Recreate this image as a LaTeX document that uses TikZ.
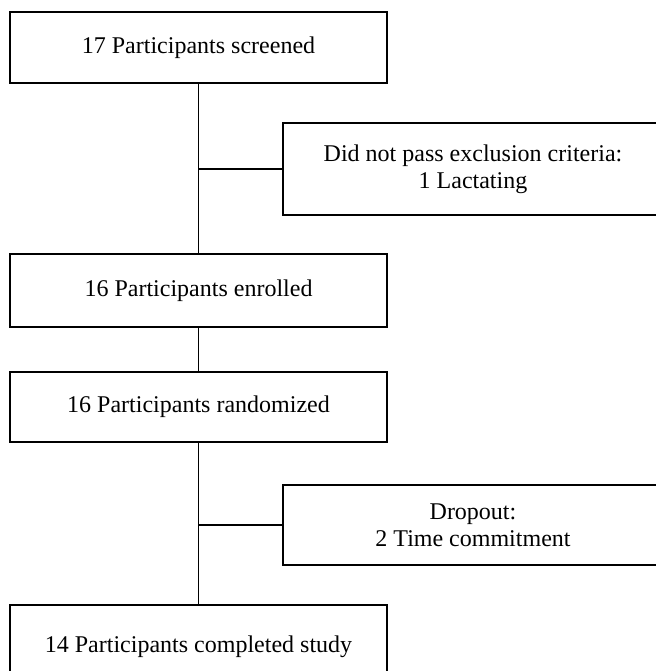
\documentclass[tikz,border=0pt]{standalone}
\usepackage{fontspec}
\setmainfont{Liberation Serif}
\usetikzlibrary{positioning}

\begin{document}
\begin{tikzpicture}[
        x=1pt, y=1pt,
        box/.style={draw=black, line width=2.2pt, inner sep=0pt, outer sep=0pt,
            minimum width=377pt, align=center, font=\fontsize{24}{27}\selectfont},
        side/.style={box, minimum width=380pt, minimum height=86pt},
        link/.style={draw=black, line width=1.6pt}
    ]
        \useasboundingbox (0,0) rectangle (655,-671);
        \node[box, minimum height=71pt] (screen) at (198.5,-47.5) {17 Participants screened};
        \node[box, minimum height=73pt, below=171pt of screen] (enrol) {16 Participants enrolled};
        \node[box, minimum height=70pt, below=45pt of enrol] (rand) {16 Participants randomized};
        \node[box, minimum height=84pt, below=163pt of rand] (done) {14 Participants completed study};
        \node[side, minimum height=92pt] (excl) at (473,-169) {Did not pass exclusion criteria:\\1 Lactating};
        \node[side, minimum height=80pt] (drop) at (473,-525) {Dropout:\\2 Time commitment};
        \coordinate (j1) at (screen.south |- excl.west);
        \coordinate (j2) at (rand.south |- drop.west);
        \draw[link] (screen) -- (enrol); \draw[link] (enrol) -- (rand); \draw[link] (rand) -- (done);
        \draw[link] (j1) -- (excl); \draw[link] (j2) -- (drop);
    \end{tikzpicture}
\end{document}
